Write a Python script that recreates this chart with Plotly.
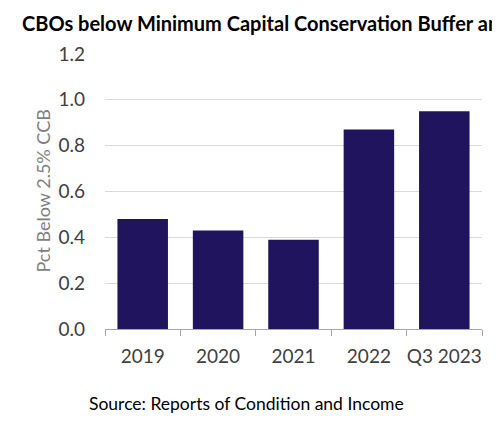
import plotly.graph_objects as go

# Data
periods = ['2019', '2020', '2021', '2022', 'Q3 2023']
pct_below_ccb = [0.48, 0.43, 0.39, 0.87, 0.95]
y_ticks = [0.0, 0.2, 0.4, 0.6, 0.8, 1.0, 1.2]

font_family = 'Lato, Open Sans, sans-serif'

fig = go.Figure()

fig.add_trace(go.Bar(
    x=periods,
    y=pct_below_ccb,
    marker=dict(color='#21145f', line=dict(width=0)),
    width=0.67,
    hoverinfo='x+y',
    showlegend=False
))

# the page body adds an 8px offset, so margins are shifted to compensate
fig.update_layout(
    width=500,
    height=422,
    margin=dict(l=97, r=26, t=46, b=101, autoexpand=False),
    paper_bgcolor='white',
    plot_bgcolor='white',
    font=dict(family=font_family, color='#404040'),
    title=dict(
        text='<b>CBOs below Minimum Capital Conservation Buffer and Its Trend</b>',
        x=14 / 500, xanchor='left', xref='container',
        y=1 - 16 / 422, yanchor='middle', yref='container',
        font=dict(family=font_family, size=20, color='black')
    ),
    xaxis=dict(
        showline=True, linecolor='#a6a6a6', linewidth=1,
        ticks='outside', tickson='boundaries', ticklen=6, tickcolor='#a6a6a6',
        tickfont=dict(size=19, color='#404040'),
        tickangle=0, automargin=False,
        ticklabelstandoff=10,
        showgrid=False
    ),
    yaxis=dict(
        range=[0, 1.2],
        tickvals=y_ticks,
        tickformat='.1f',
        tickfont=dict(size=19, color='#404040'),
        ticklabelstandoff=19, automargin=False,
        showgrid=True, gridcolor='#d9d9d9', gridwidth=1,
        zeroline=False, showline=False
    ),
    annotations=[
        dict(
            text='Pct Below 2.5% CCB',
            xref='paper', yref='paper',
            x=(42 - 105) / 377, y=0.5,
            xanchor='center', yanchor='middle',
            textangle=-90, showarrow=False,
            font=dict(family=font_family, size=18, color='#7f7f7f')
        ),
        dict(
            text='Source: Reports of Condition and Income',
            xref='paper', yref='paper',
            x=(246 - 105) / 377, y=(329 - 403) / 275,
            xanchor='center', yanchor='middle',
            showarrow=False,
            font=dict(family=font_family, size=17.5, color='black')
        )
    ],
    bargap=0.33
)

fig.write_html('out.html')
